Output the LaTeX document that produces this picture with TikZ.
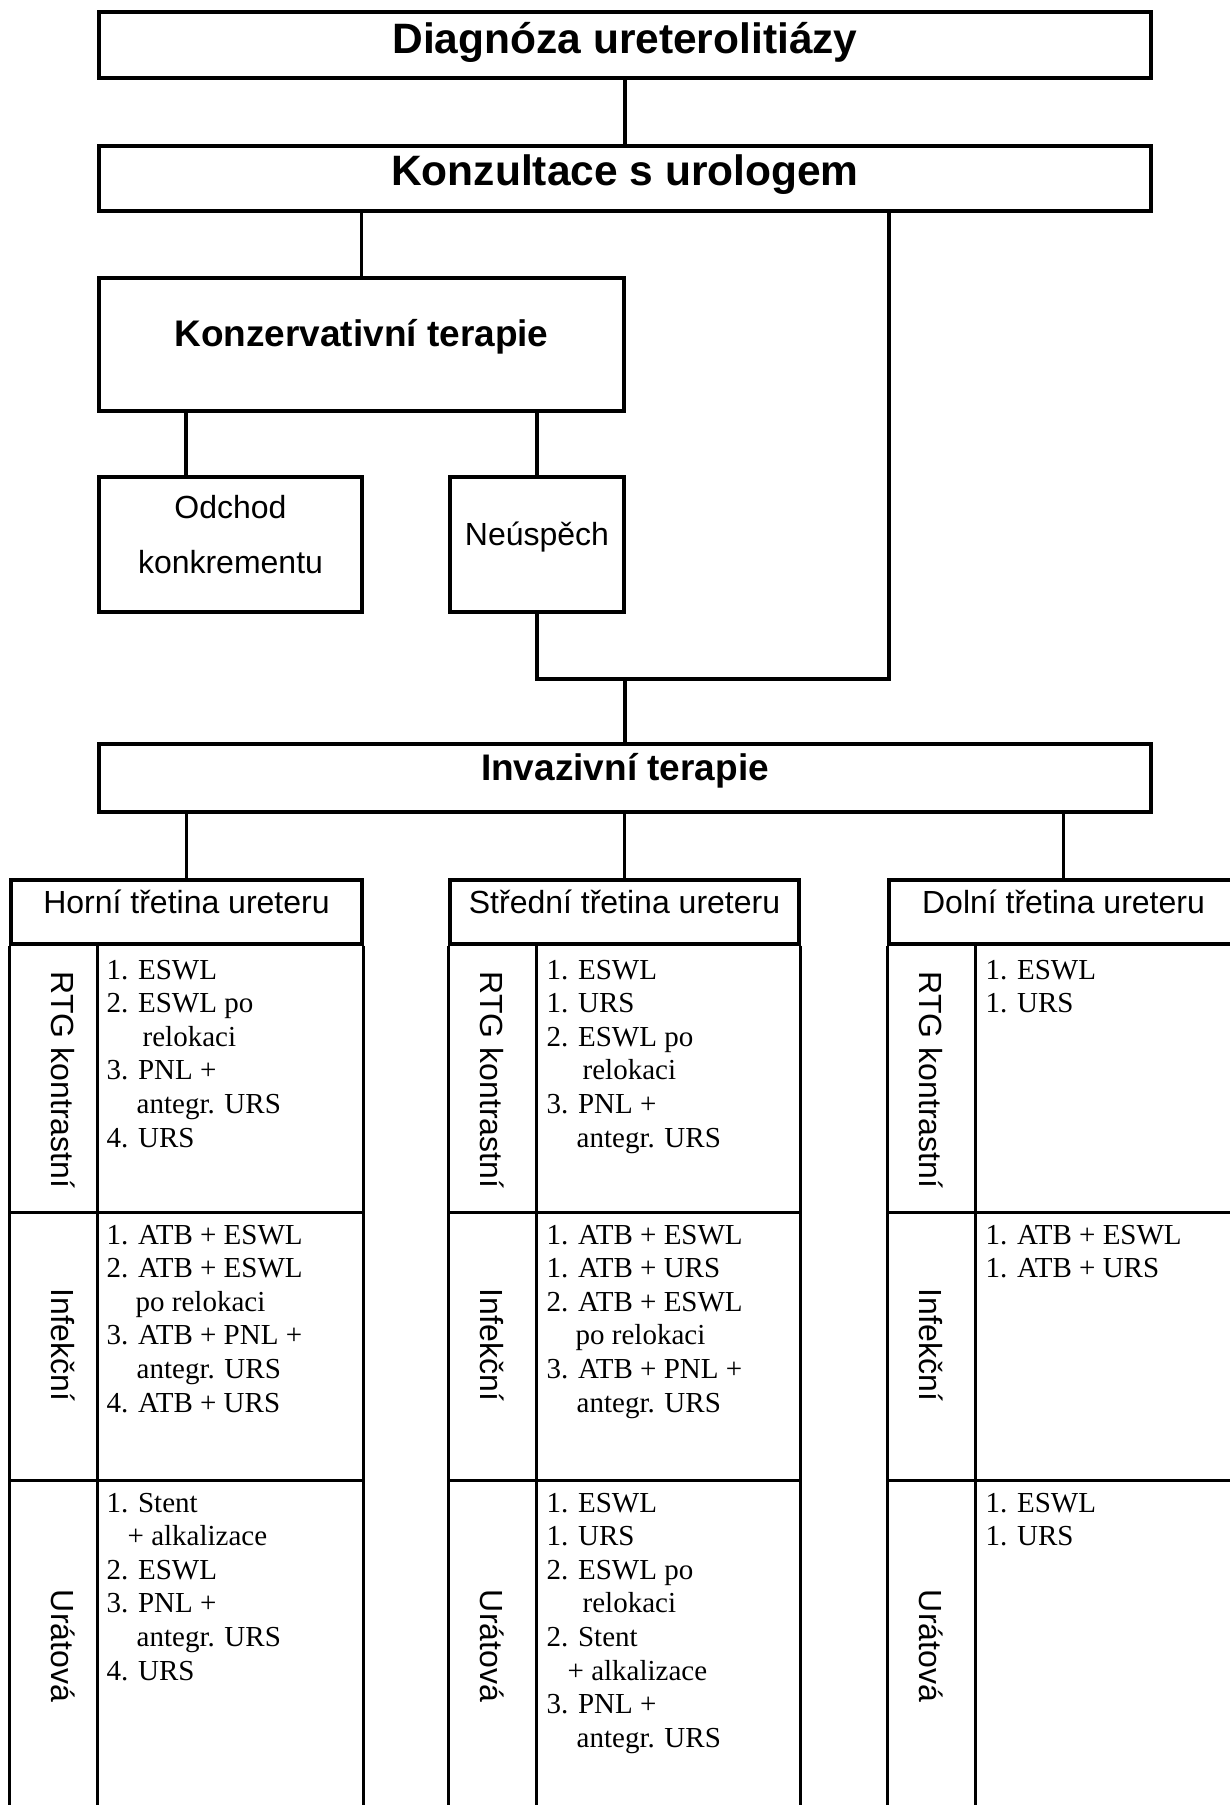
\documentclass[tikz,border=0pt]{standalone}
\usepackage{fontspec}
\setmainfont{Liberation Serif}
\newfontfamily\arialf{Liberation Sans}
\usetikzlibrary{calc}
\newcommand\li[2][0]{\hbox{\hspace*{#1pt}#2}}
\newcommand\cellbox[1]{\vtop{\fontsize{29}{33.6}\selectfont #1}}
\tikzset{
  bx/.style={draw, line width=3.3pt, inner sep=0pt},
  cn/.style={line width=3.2pt},
  bl/.style={line width=3.3pt},
  dv/.style={line width=3.2pt},
  big/.style={font={\arialf\bfseries\fontsize{42.5}{50}\selectfont}, anchor=base, inner sep=0pt},
  mid/.style={font={\arialf\bfseries\fontsize{37}{44}\selectfont}, anchor=base, inner sep=0pt},
  reg/.style={font={\arialf\fontsize{32}{38}\selectfont}, anchor=base, inner sep=0pt},
  rl/.style={reg, rotate=-90},
  lst/.style={anchor=base west, inner sep=0pt}
}
\begin{document}
\begin{tikzpicture}[x=1pt,y=-1pt]
\useasboundingbox (0,0) rectangle (1230,1805);
\clip (0,0) rectangle (1230,1805);
% top boxes
\node[bx, minimum width=1052, minimum height=66] (A) at (625,45) {};
\node[bx, minimum width=1052, minimum height=65] (B) at (625,178.5) {};
\node[bx, minimum width=525, minimum height=133] (K) at (361.5,344.5) {};
\node[bx, minimum width=263, minimum height=135] (O) at (230.5,544.5) {};
\node[bx, minimum width=174, minimum height=135] (N) at (537,544.5) {};
\node[bx, minimum width=1052, minimum height=68] (I) at (625,778) {};
% texts
\node[big] (tA) at (625,53) {Diagnóza ureterolitiázy};
\node[big] (tB) at (625,185) {Konzultace s urologem};
\node[mid] (tK) at (361.5,346) {Konzervativní terapie};
\node[reg] (tO1) at (230.5,518) {Odchod};
\node[reg] (tO2) at (230.5,573) {konkrementu};
\node[reg] (tN) at (537,545.5) {Neúspěch};
\node[mid] (tI) at (625,780) {Invazivní terapie};
% connectors
\draw[cn] (A.south) -- (B.north);
\draw[cn] (K.north |- B.south) -- (K.north);
\coordinate (oc) at ([xshift=-44.5]O.north);
\draw[cn] (oc |- K.south) -- (oc);
\draw[cn] (N.north |- K.south) -- (N.north);
\coordinate (r) at (889,679);
\draw[cn] (N.south) |- (r) -- (r |- B.south);
\draw[cn] (I.north |- r) -- (I.north);
% column headers
\node[bx, minimum width=351, minimum height=64] (H1) at (186.5,912) {};
\node[bx, minimum width=349, minimum height=64] (H2) at (624.5,912) {};
\node[bx, minimum width=349, minimum height=64] (H3) at (1063.5,912) {};
\node[reg] (tH1) at (186.5,913) {Horní třetina ureteru};
\node[reg] (tH2) at (624.5,913) {Střední třetina ureteru};
\node[reg] (tH3) at (1063.5,913) {Dolní třetina ureteru};
\foreach \h in {H1,H2,H3}{
  \draw[cn] (I.south -| \h.north) -- (\h.north);
  \draw[bl] (\h.south west) -- ++(0,900);
  \draw[bl] (\h.south east) -- ++(0,900);
  \draw[bl] ([yshift=-267]\h.south west) -- ([yshift=-267]\h.south east);
  \draw[bl] ([yshift=-535]\h.south west) -- ([yshift=-535]\h.south east);
  \draw[dv] ([xshift=88]\h.south west) -- ++(0,900);
}
% rotated labels
\node[rl] (r11) at (51,1080) {RTG kontrastní};
\node[rl] (r12) at (51,1345) {Infekční};
\node[rl] (r13) at (51,1646) {Urátová};
\node[rl] (r21) at (480,1080) {RTG kontrastní};
\node[rl] (r22) at (480,1345) {Infekční};
\node[rl] (r23) at (480,1646) {Urátová};
\node[rl] (r31) at (919,1080) {RTG kontrastní};
\node[rl] (r32) at (919,1345) {Infekční};
\node[rl] (r33) at (919,1646) {Urátová};
% lists column 1
\node[lst] (c11) at (106.5,979) {\cellbox{\li{1. ESWL}\li{2. ESWL po}\li[36]{relokaci}\li{3. PNL +}\li[30]{antegr. URS}\li{4. URS}}};
\node[lst] (c12) at (106.5,1244) {\cellbox{\li{1. ATB + ESWL}\li{2. ATB + ESWL}\li[29]{po relokaci}\li{3. ATB + PNL +}\li[30]{antegr. URS}\li{4. ATB + URS}}};
\node[lst] (c13) at (106.5,1512) {\cellbox{\li{1. Stent}\li[21]{+ alkalizace}\li{2. ESWL}\li{3. PNL +}\li[30]{antegr. URS}\li{4. URS}}};
% lists column 2
\node[lst] (c21) at (546.5,979) {\cellbox{\li{1. ESWL}\li{1. URS}\li{2. ESWL po}\li[36]{relokaci}\li{3. PNL +}\li[30]{antegr. URS}}};
\node[lst] (c22) at (546.5,1244) {\cellbox{\li{1. ATB + ESWL}\li{1. ATB + URS}\li{2. ATB + ESWL}\li[29]{po relokaci}\li{3. ATB + PNL +}\li[30]{antegr. URS}}};
\node[lst] (c23) at (546.5,1512) {\cellbox{\li{1. ESWL}\li{1. URS}\li{2. ESWL po}\li[36]{relokaci}\li{2. Stent}\li[21]{+ alkalizace}\li{3. PNL +}\li[30]{antegr. URS}}};
% lists column 3
\node[lst] (c31) at (985.5,979) {\cellbox{\li{1. ESWL}\li{1. URS}}};
\node[lst] (c32) at (985.5,1244) {\cellbox{\li{1. ATB + ESWL}\li{1. ATB + URS}}};
\node[lst] (c33) at (985.5,1512) {\cellbox{\li{1. ESWL}\li{1. URS}}};
\end{tikzpicture}
\end{document}
